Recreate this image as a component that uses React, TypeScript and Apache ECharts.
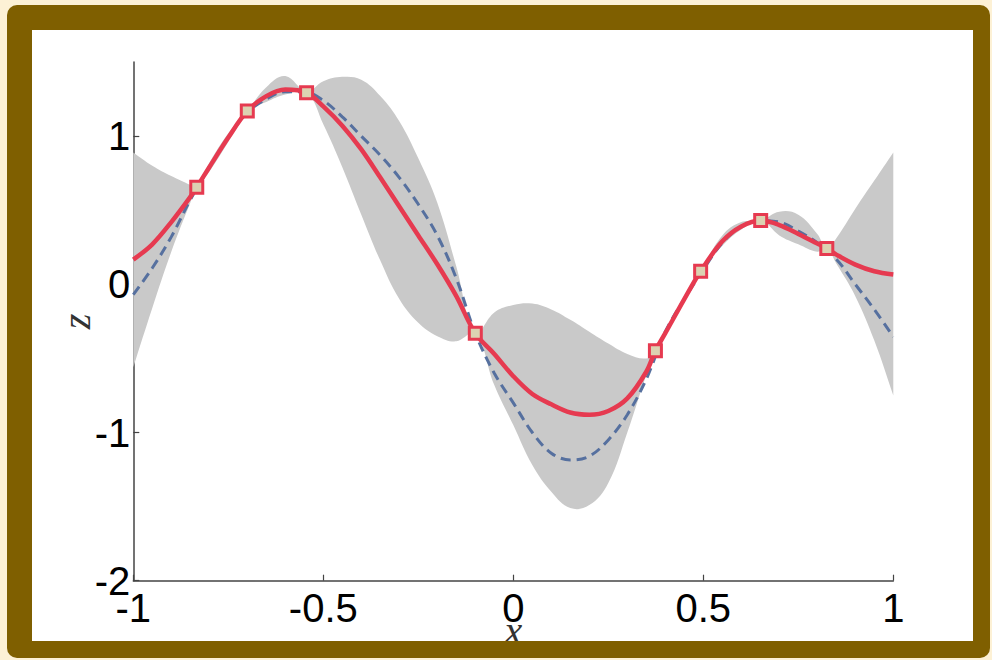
import React, { useEffect, useRef } from 'react';
import * as echarts from 'echarts';

// axis ticks
const xTicks = [-1, -0.5, 0, 0.5, 1];
const zTicks = [-2, -1, 0, 1];

// predictive mean (red solid)
const meanX = [-1, -0.95, -0.9, -0.85, -0.833, -0.8, -0.75, -0.7, -0.65, -0.6, -0.544, -0.5, -0.45, -0.4, -0.35, -0.3, -0.25, -0.2, -0.15, -0.1, -0.05, 0, 0.05, 0.1, 0.15, 0.2, 0.25, 0.3, 0.35, 0.374, 0.4, 0.45, 0.493, 0.55, 0.6, 0.651, 0.7, 0.75, 0.8, 0.825, 0.85, 0.9, 0.95, 1];
const meanZ = [0.167, 0.27, 0.42, 0.59, 0.655, 0.79, 0.99, 1.169, 1.27, 1.315, 1.293, 1.2, 1.07, 0.91, 0.72, 0.525, 0.33, 0.135, -0.08, -0.33, -0.47, -0.62, -0.74, -0.81, -0.865, -0.88, -0.855, -0.77, -0.59, -0.448, -0.33, -0.1, 0.088, 0.29, 0.39, 0.43, 0.4, 0.34, 0.275, 0.241, 0.2, 0.133, 0.088, 0.066];

// true function (blue dashed)
const trueX = [-1, -0.95, -0.9, -0.85, -0.8, -0.75, -0.7, -0.65, -0.6, -0.55, -0.5, -0.45, -0.4, -0.35, -0.3, -0.25, -0.2, -0.15, -0.1, -0.05, 0, 0.05, 0.1, 0.15, 0.2, 0.25, 0.3, 0.35, 0.4, 0.45, 0.5, 0.55, 0.6, 0.65, 0.7, 0.75, 0.8, 0.85, 0.9, 0.95, 1];
const trueZ = [-0.07, 0.11, 0.32, 0.57, 0.79, 0.99, 1.16, 1.25, 1.3, 1.3, 1.24, 1.13, 1.0, 0.87, 0.72, 0.54, 0.33, 0.04, -0.33, -0.6, -0.8, -1.0, -1.14, -1.185, -1.16, -1.05, -0.88, -0.64, -0.32, -0.1, 0.1, 0.28, 0.39, 0.43, 0.42, 0.36, 0.28, 0.17, 0.0, -0.17, -0.355];

// confidence band (grey)
const bandX = [-1, -0.95, -0.9, -0.85, -0.833, -0.8, -0.75, -0.7, -0.65, -0.6, -0.544, -0.5, -0.45, -0.4, -0.35, -0.3, -0.25, -0.2, -0.15, -0.1, -0.05, 0, 0.05, 0.1, 0.15, 0.2, 0.25, 0.3, 0.35, 0.374, 0.43, 0.493, 0.55, 0.6, 0.651, 0.7, 0.75, 0.8, 0.825, 0.85, 0.9, 0.95, 1];
const bandUpper = [0.89, 0.8, 0.73, 0.67, 0.655, 0.82, 1.02, 1.17, 1.33, 1.405, 1.3, 1.37, 1.4, 1.38, 1.27, 1.1, 0.85, 0.55, 0.12, -0.33, -0.19, -0.14, -0.13, -0.17, -0.24, -0.32, -0.4, -0.47, -0.5, -0.448, -0.17, 0.088, 0.33, 0.42, 0.43, 0.49, 0.47, 0.34, 0.241, 0.31, 0.51, 0.7, 0.89];
const bandLower = [-0.56, -0.16, 0.22, 0.55, 0.655, 0.76, 0.96, 1.169, 1.23, 1.28, 1.293, 1.08, 0.79, 0.47, 0.16, -0.1, -0.26, -0.35, -0.385, -0.33, -0.68, -0.95, -1.22, -1.4, -1.51, -1.49, -1.34, -1.0, -0.61, -0.448, -0.21, 0.088, 0.26, 0.37, 0.43, 0.33, 0.27, 0.22, 0.241, 0.14, -0.08, -0.38, -0.75];

// observations (squares)
const obsX = [-0.833, -0.7, -0.544, -0.1, 0.374, 0.493, 0.651, 0.825];
const obsZ = [0.655, 1.169, 1.293, -0.33, -0.448, 0.088, 0.43, 0.241];

const RED = '#e63a50';
const BLUE = '#56709f';
const GREY = '#c9c9c9';
const AXIS = '#444444';

export default function App() {
  const ref = useRef<HTMLDivElement>(null);

  useEffect(() => {
    if (!ref.current) return;
    const chart = echarts.init(ref.current, null, { renderer: 'svg' });
    const labelFont = { fontFamily: 'Liberation Sans, Arial, sans-serif', fontSize: 40, color: '#000' };
    const nameFont = { fontFamily: 'Liberation Serif, Times New Roman, serif', fontStyle: 'italic', fontSize: 40, color: '#333' };

    const option: any = {
      animation: false,
      backgroundColor: '#ffffff',
      grid: { left: 101.3, right: 79.7, top: 32, bottom: 60.3, containLabel: false, outerBoundsMode: 'none' },
      xAxis: {
        type: 'value',
        min: -1,
        max: 1,
        interval: 0.5,
        name: 'x',
        nameLocation: 'middle',
        nameGap: 30,
        nameMoveOverlap: false,
        nameTextStyle: nameFont,
        axisLine: { show: true, onZero: false, lineStyle: { color: AXIS, width: 1.5 } },
        axisTick: { show: true, inside: true, length: 6, customValues: xTicks, lineStyle: { color: AXIS, width: 1.2 } },
        axisLabel: { ...labelFont, margin: 7, customValues: xTicks },
        splitLine: { show: false },
      },
      yAxis: {
        type: 'value',
        min: -2,
        max: 1.5,
        interval: 1,
        name: 'z',
        nameLocation: 'middle',
        nameGap: 37,
        nameMoveOverlap: false,
        nameTextStyle: nameFont,
        axisLine: { show: true, onZero: false, lineStyle: { color: AXIS, width: 1.5 } },
        axisTick: { show: true, inside: true, length: 6, customValues: zTicks, lineStyle: { color: AXIS, width: 1.2 } },
        axisLabel: {
          ...labelFont,
          margin: 3,
          customValues: zTicks,
          formatter: (v: number) => (zTicks.indexOf(v) >= 0 ? String(v) : ''),
        },
        splitLine: { show: false },
      },
      series: [
        {
          type: 'custom',
          z: 1,
          silent: true,
          data: bandX.map((x, i) => [x, bandUpper[i], bandLower[i]]),
          encode: { x: 0, y: [1, 2] },
          renderItem: (params: any, api: any) => {
            if (params.dataIndex !== 0) return null;
            const n = bandX.length;
            const up = bandX.map((x, i) => api.coord([x, bandUpper[i]]));
            const lo = bandX.map((x, i) => api.coord([x, bandLower[i]])).reverse();
            const pts = [up[0], ...up, up[n - 1], lo[0], ...lo, lo[n - 1]];
            return {
              type: 'polygon',
              shape: { points: pts, smooth: 0.4 },
              style: { fill: GREY },
            };
          },
        },
        {
          type: 'line',
          z: 2,
          data: trueX.map((x, i) => [x, trueZ[i]]),
          smooth: 0.35,
          symbol: 'none',
          lineStyle: { color: BLUE, width: 3, type: [10, 6] },
        },
        {
          type: 'line',
          z: 3,
          data: meanX.map((x, i) => [x, meanZ[i]]),
          smooth: 0.35,
          symbol: 'none',
          lineStyle: { color: RED, width: 4.5 },
        },
        {
          type: 'scatter',
          z: 4,
          data: obsX.map((x, i) => [x, obsZ[i]]),
          symbol: 'rect',
          symbolSize: 12,
          itemStyle: { color: '#dcd2b2', borderColor: RED, borderWidth: 3, opacity: 1 },
        },
      ],
    };
    chart.setOption(option);
    return () => chart.dispose();
  }, []);

  return (
    <div style={{ position: 'fixed', left: 0, top: 0, width: 992, height: 660, background: '#fdf1d5', overflow: 'hidden' }}>
      <div style={{ position: 'absolute', left: 7, top: 5, width: 983, height: 653, background: '#7f5f00', borderRadius: 10 }} />
      <div ref={ref} style={{ position: 'absolute', left: 32, top: 30, width: 941, height: 611, background: '#ffffff' }} />
    </div>
  );
}
